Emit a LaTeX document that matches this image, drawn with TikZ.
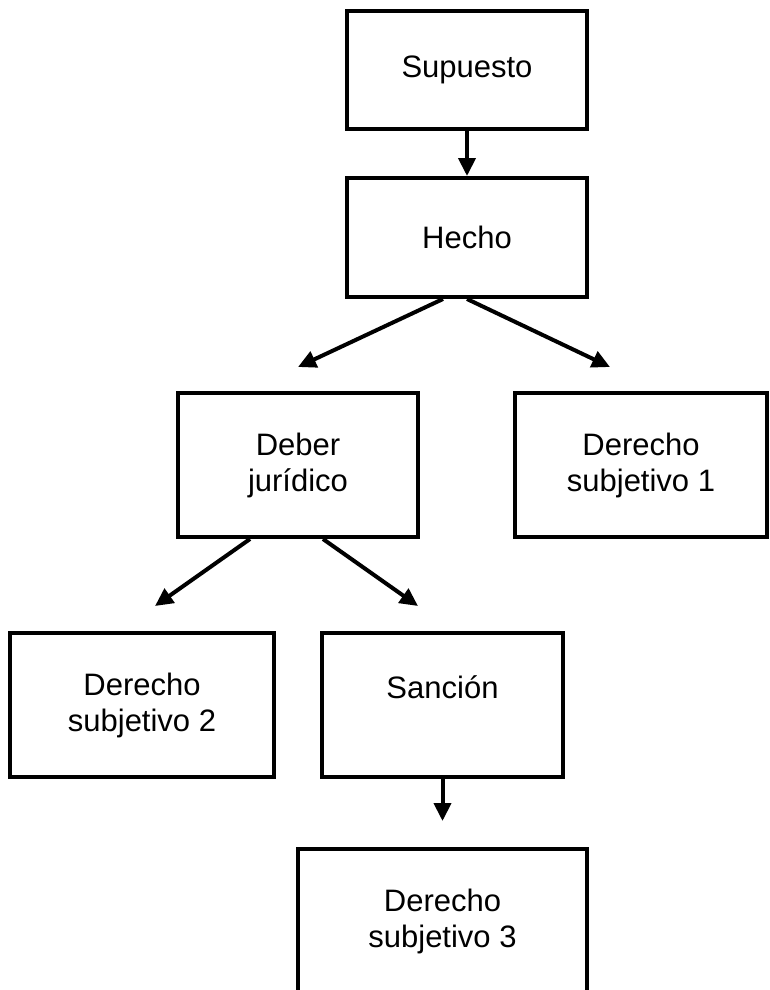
\documentclass[tikz,border=0pt]{standalone}
\usepackage{fontspec}
\setmainfont{Liberation Sans}
\usetikzlibrary{arrows.meta}
\tikzset{
  box/.style={draw=black, line width=4pt, fill=white, inner sep=0pt,
    align=center, font=\fontsize{31}{36}\selectfont},
  flow/.style={line width=4pt, -{Triangle[length=18pt,width=17pt]}}
}
\begin{document}
\begin{tikzpicture}[x=1pt,y=-1pt]
  \useasboundingbox (0,0) rectangle (770,990);
  \clip (0,0) rectangle (770,990);

  % boxes (centres in pixel units, y downwards)
  \node[box, minimum width=240pt, minimum height=118pt] (supuesto) at (467,70) {Supuesto};
  \node[box, minimum width=240pt, minimum height=119pt] (hecho) at (467,237.5) {Hecho};
  \node[box, minimum width=240pt, minimum height=144pt] (deber) at (298,465) {Deber\\jurídico};
  \node[box, minimum width=252pt, minimum height=144pt] (ds1) at (641,465) {Derecho\\subjetivo 1};
  \node[box, minimum width=264pt, minimum height=144pt] (ds2) at (142,705) {Derecho\\subjetivo 2};
  \node[box, minimum width=241pt, minimum height=144pt] (sancion) at (442.5,705) {Sanción\\\mbox{}};
  \node[box, minimum width=289pt, minimum height=144pt] (ds3) at (442.5,921) {Derecho\\subjetivo 3};

  % connectors
  \draw[flow] (supuesto.south) -- (hecho.north);
  \draw[flow] ([xshift=-24pt]hecho.south) -- ([yshift=24pt]deber.north);
  \draw[flow] (hecho.south) -- ([xshift=-31pt,yshift=24pt]ds1.north);
  \draw[flow] ([xshift=-48pt]deber.south) -- ([xshift=13pt,yshift=25pt]ds2.north);
  \draw[flow] ([xshift=25pt]deber.south) -- ([xshift=-24.5pt,yshift=25pt]sancion.north);
  \draw[flow] (sancion.south) -- ([yshift=26pt]ds3.north);
\end{tikzpicture}
\end{document}
